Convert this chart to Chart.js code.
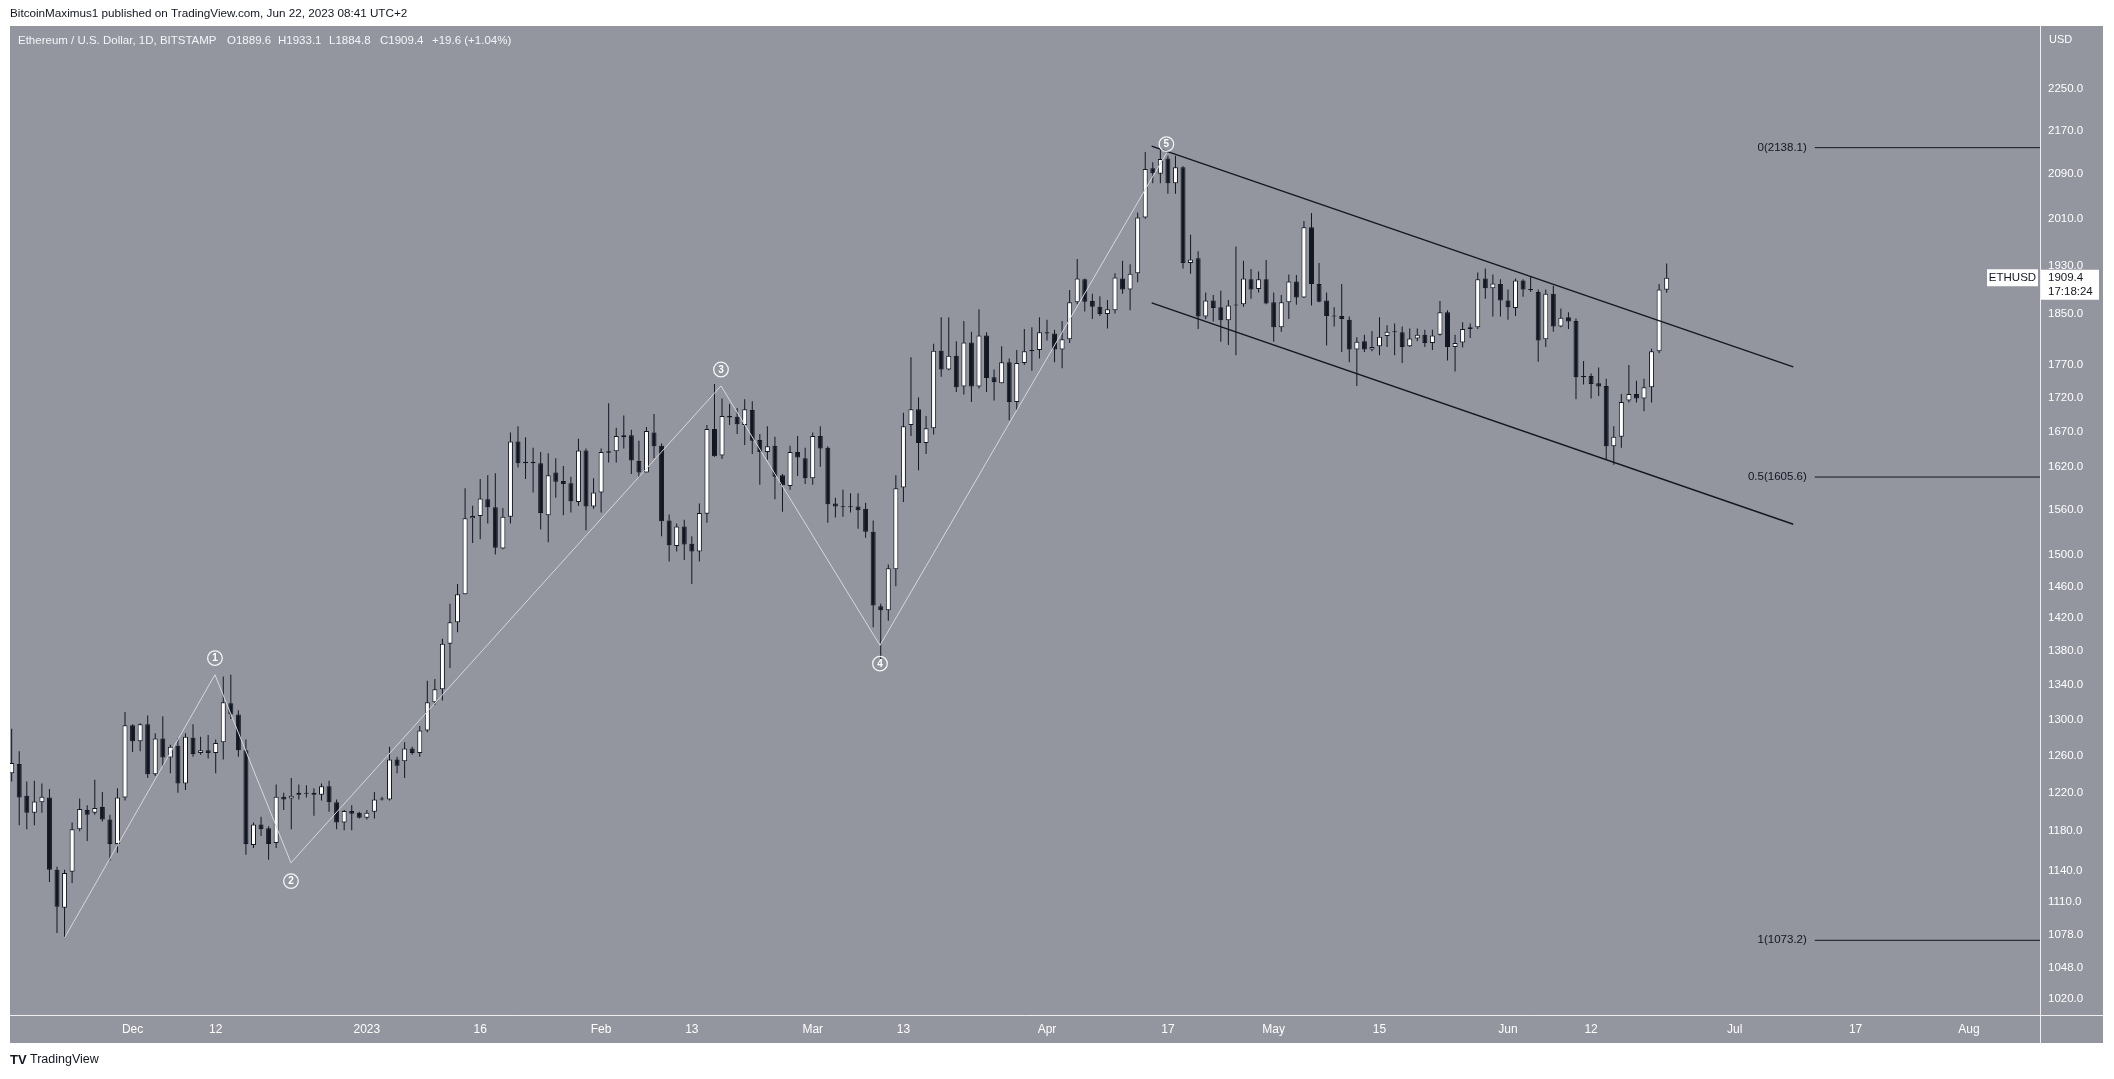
<!DOCTYPE html>
<html>
<head>
<meta charset="utf-8">
<title>ETHUSD 1D</title>
<script src="https://cdn.jsdelivr.net/npm/chart.js@4.4.0/dist/chart.umd.min.js"></script>
<style>
  html, body { margin: 0; padding: 0; background: #ffffff; }
  canvas { display: block; }
</style>
</head>
<body>
<canvas id="chart" width="2114" height="1079"></canvas>
<script>
// daily candles, first one is 2022-11-15 (one per day)
const startDate = '2022-11-15';

const openPrices = [
  1241, 1251, 1217, 1199, 1210, 1215, 1141, 1104, 1139, 1182, 1202, 1199, 1205, 1192, 1167, 1215,
  1294, 1276, 1295, 1240, 1279, 1258, 1271, 1230, 1280, 1263, 1266, 1263, 1275, 1319, 1306, 1266,
  1166, 1187, 1183, 1168, 1216, 1214, 1218, 1219, 1220, 1218, 1227, 1210, 1189, 1201, 1199,
  1194, 1200, 1213, 1213, 1256, 1254, 1268, 1263, 1288, 1320, 1335, 1389, 1415, 1450, 1549, 1552,
  1575, 1564, 1509, 1551, 1656, 1627, 1625, 1625, 1553, 1612, 1600, 1597, 1571, 1643, 1565,
  1584, 1642, 1642, 1662, 1665, 1628, 1612, 1669, 1650, 1546, 1512, 1538, 1515, 1505, 1555, 1674,
  1636, 1693, 1692, 1680, 1702, 1658, 1641, 1650, 1608, 1593, 1641, 1632,
  1604, 1664, 1647, 1569, 1565, 1565, 1565, 1562, 1531, 1435, 1430, 1482, 1591, 1680, 1703, 1654,
  1675, 1792, 1763, 1784, 1737, 1805, 1737, 1816, 1751, 1742, 1774, 1714, 1773, 1793, 1793,
  1821, 1819, 1794, 1810, 1869, 1907, 1871, 1862, 1850, 1856, 1908, 1890, 1917, 2012, 2100, 2090,
  2118, 2073, 2102, 1934, 1942, 1846, 1872, 1861, 1840, 1864, 1866, 1907, 1891, 1907,
  1869, 1829, 1869, 1903, 1877, 1995, 1899, 1872, 1846, 1847, 1841, 1794, 1807, 1794, 1799, 1815,
  1822, 1821, 1799, 1811, 1817, 1804, 1817, 1853, 1798, 1805, 1829, 1829, 1908, 1892, 1899,
  1872, 1860, 1905, 1890, 1886, 1810, 1883, 1830, 1845, 1839, 1753, 1753, 1742, 1738, 1649, 1663,
  1716, 1726, 1719, 1736, 1791, 1889.6
];
const highPrices = [
  1290, 1265, 1232, 1233, 1230, 1224, 1144, 1141, 1189, 1214, 1207, 1234, 1221, 1197, 1225, 1309,
  1295, 1296, 1305, 1285, 1304, 1272, 1279, 1285, 1295, 1281, 1283, 1278, 1350, 1352, 1311, 1278,
  1189, 1195, 1185, 1229, 1220, 1236, 1229, 1228, 1225, 1230, 1233, 1213, 1202, 1207, 1200,
  1202, 1221, 1216, 1270, 1259, 1275, 1270, 1293, 1345, 1347, 1395, 1438, 1463, 1590, 1566, 1603,
  1608, 1611, 1563, 1669, 1678, 1662, 1647, 1641, 1639, 1632, 1621, 1606, 1660, 1646, 1604,
  1646, 1712, 1676, 1694, 1673, 1657, 1677, 1696, 1653, 1554, 1542, 1547, 1525, 1569, 1680, 1741,
  1719, 1711, 1705, 1718, 1715, 1667, 1678, 1663, 1610, 1650, 1664, 1647,
  1669, 1678, 1649, 1577, 1588, 1583, 1583, 1570, 1546, 1438, 1488, 1608, 1698, 1782, 1721, 1693,
  1803, 1845, 1845, 1807, 1839, 1822, 1858, 1821, 1763, 1799, 1780, 1793, 1826, 1829, 1845,
  1841, 1825, 1839, 1889, 1941, 1908, 1883, 1879, 1873, 1917, 1938, 1932, 2021, 2130, 2111, 2137,
  2123, 2123, 2104, 1982, 1954, 1885, 1881, 1888, 1873, 1962, 1938, 1924, 1920, 1939,
  1885, 1881, 1915, 1914, 2006, 2020, 1934, 1885, 1861, 1899, 1846, 1813, 1817, 1823, 1845, 1832,
  1835, 1830, 1827, 1827, 1825, 1825, 1871, 1856, 1817, 1837, 1835, 1918, 1925, 1915, 1907,
  1890, 1908, 1907, 1912, 1890, 1890, 1896, 1859, 1853, 1843, 1776, 1757, 1766, 1749, 1678, 1726,
  1770, 1746, 1749, 1795, 1899, 1933.1
];
const lowPrices = [
  1232, 1186, 1182, 1186, 1199, 1129, 1080, 1075, 1128, 1180, 1170, 1197, 1190, 1150, 1158, 1212,
  1264, 1265, 1236, 1238, 1248, 1241, 1220, 1223, 1259, 1261, 1257, 1241, 1256, 1301, 1259, 1156,
  1163, 1175, 1151, 1163, 1202, 1182, 1213, 1215, 1196, 1212, 1200, 1182, 1181, 1181, 1193,
  1192, 1193, 1212, 1212, 1241, 1236, 1261, 1259, 1286, 1317, 1322, 1360, 1403, 1450, 1516, 1521,
  1542, 1501, 1508, 1542, 1619, 1603, 1584, 1534, 1517, 1577, 1553, 1557, 1566, 1533, 1562,
  1557, 1626, 1626, 1646, 1610, 1605, 1612, 1632, 1525, 1492, 1505, 1494, 1463, 1492, 1543, 1634,
  1631, 1680, 1667, 1651, 1638, 1595, 1630, 1575, 1558, 1588, 1607, 1596,
  1595, 1620, 1543, 1550, 1551, 1557, 1535, 1523, 1409, 1370, 1417, 1460, 1571, 1664, 1615, 1638,
  1666, 1752, 1762, 1729, 1725, 1714, 1734, 1729, 1716, 1742, 1687, 1702, 1770, 1761, 1780,
  1808, 1774, 1765, 1804, 1866, 1854, 1842, 1847, 1827, 1851, 1883, 1856, 1902, 2010, 2073, 2073,
  2054, 2054, 1925, 1916, 1826, 1842, 1838, 1806, 1801, 1785, 1862, 1875, 1885, 1866,
  1806, 1822, 1842, 1865, 1876, 1864, 1869, 1800, 1830, 1790, 1774, 1738, 1790, 1791, 1785, 1798,
  1785, 1773, 1798, 1807, 1798, 1793, 1816, 1777, 1760, 1797, 1812, 1826, 1875, 1846, 1846,
  1841, 1847, 1878, 1886, 1775, 1798, 1822, 1829, 1826, 1718, 1740, 1719, 1723, 1631, 1623, 1647,
  1713, 1713, 1700, 1713, 1788, 1884.8
];
const closePrices = [
  1252, 1215, 1199, 1211, 1216, 1141, 1105, 1138, 1182, 1203, 1197, 1204, 1192, 1167, 1215, 1294,
  1276, 1295, 1240, 1279, 1258, 1270, 1230, 1281, 1262, 1266, 1263, 1274, 1320, 1306, 1266, 1167,
  1187, 1182, 1167, 1216, 1213, 1217, 1220, 1220, 1218, 1227, 1210, 1189, 1201, 1198, 1194,
  1199, 1213, 1214, 1256, 1249, 1268, 1263, 1288, 1320, 1335, 1389, 1415, 1450, 1549, 1552, 1576,
  1564, 1510, 1551, 1656, 1625, 1625, 1627, 1556, 1608, 1599, 1596, 1572, 1643, 1565, 1584,
  1641, 1640, 1664, 1665, 1629, 1612, 1671, 1649, 1545, 1513, 1538, 1514, 1505, 1556, 1674, 1635,
  1693, 1691, 1681, 1703, 1657, 1641, 1649, 1606, 1594, 1641, 1633, 1604,
  1664, 1646, 1568, 1565, 1564, 1564, 1560, 1531, 1436, 1430, 1483, 1590, 1678, 1703, 1654, 1675,
  1792, 1763, 1784, 1736, 1805, 1737, 1816, 1750, 1744, 1774, 1714, 1773, 1791, 1791, 1821,
  1819, 1794, 1810, 1869, 1908, 1870, 1862, 1850, 1858, 1910, 1890, 1916, 2012, 2099, 2091, 2117,
  2073, 2102, 1934, 1940, 1846, 1872, 1860, 1840, 1864, 1865, 1908, 1890, 1907, 1867,
  1829, 1869, 1903, 1877, 1995, 1899, 1870, 1847, 1846, 1842, 1794, 1806, 1794, 1798, 1814, 1822,
  1821, 1798, 1811, 1817, 1804, 1816, 1853, 1798, 1804, 1826, 1826, 1907, 1892, 1900, 1872,
  1861, 1905, 1890, 1889, 1808, 1883, 1830, 1844, 1838, 1751, 1751, 1741, 1737, 1649, 1663, 1714,
  1726, 1719, 1736, 1791, 1889.8, 1909.4
];

const yTickValues = [2250, 2170, 2090, 2010, 1930, 1850, 1770, 1720, 1670, 1620, 1560, 1500, 1460,
  1420, 1380, 1340, 1300, 1260, 1220, 1180, 1140, 1110, 1078, 1048, 1020];
const xTickDates = ['2022-12-01', '2022-12-12', '2023-01-01', '2023-01-16', '2023-02-01', '2023-02-13',
  '2023-03-01', '2023-03-13', '2023-04-01', '2023-04-17', '2023-05-01', '2023-05-15', '2023-06-01',
  '2023-06-12', '2023-07-01', '2023-07-17', '2023-08-01'];
const xTickLabels = ['Dec', '12', '2023', '16', 'Feb', '13', 'Mar', '13', 'Apr', '17', 'May', '15',
  'Jun', '12', 'Jul', '17', 'Aug'];

// drawings (in day index / price)
const waveDays = [6.96, 26.9, 36.96, 93.86, 114.9, 152.8];
const wavePrices = [1075, 1352, 1148, 1738, 1387, 2128];
const waveLabels = ['', '1', '2', '3', '4', '5'];
const channelDays = [150.85, 235.75];
const channelUpper = [2141, 1767];
const channelLower = [1868, 1541];
const fibLevels = ['0', '0.5', '1'];
const fibPrices = [2138.1, 1605.6, 1073.2];
const fibStartDay = 238.6;

const lastPrice = 1909.4;
const countdown = '17:18:24';

// visible window
const xMin = -0.22, xMax = 268.4;
const yMin = 1005.7, yMax = 2376.7;

const PANEL = '#93969f';
const DARK = '#131722';
const SEP = 'rgba(255,255,255,0.85)';
const FONT = '"Liberation Sans", Arial, sans-serif';

function dayIndex(d) {
  return Math.round((Date.parse(d) - Date.parse(startDate)) / 864e5);
}

const days = openPrices.map((_, i) => i);
const bodies = days.map(i => ({ x: i, y: [openPrices[i], closePrices[i]] }));
const wicks = days.map(i => ({ x: i, y: [lowPrices[i], highPrices[i]] }));
const bodyColors = days.map(i => closePrices[i] >= openPrices[i] ? '#ffffff' : DARK);

const toPts = (xs, ys) => xs.map((x, i) => ({ x: x, y: ys[i] }));
const lineDs = (data, color, width, order) => ({
  type: 'line', data: data, borderColor: color, borderWidth: width, pointRadius: 0,
  tension: 0, fill: false, order: order
});

// label offsets for the wave circles, px from the wave point
const waveLabelDy = [0, -16.6, 18.3, -16.4, 18.3, -9];

const backdrop = {
  id: 'backdrop',
  beforeDraw(chart) {
    const ctx = chart.ctx, a = chart.chartArea;
    const yS = chart.scales.y, xS = chart.scales.x;
    ctx.save();
    ctx.fillStyle = '#ffffff';
    ctx.fillRect(0, 0, chart.width, chart.height);
    ctx.fillStyle = PANEL;
    ctx.fillRect(a.left, a.top, yS.right - a.left, xS.bottom - a.top);
    ctx.restore();
  }
};

const overlay = {
  id: 'overlay',
  afterDraw(chart) {
    const ctx = chart.ctx, a = chart.chartArea;
    const xS = chart.scales.x, yS = chart.scales.y;
    ctx.save();

    // separators through the corner
    ctx.strokeStyle = SEP;
    ctx.lineWidth = 1;
    ctx.beginPath();
    ctx.moveTo(a.right, a.bottom + 0.5); ctx.lineTo(yS.right, a.bottom + 0.5);
    ctx.moveTo(a.right + 0.5, a.bottom); ctx.lineTo(a.right + 0.5, xS.bottom);
    ctx.stroke();

    // header
    ctx.textBaseline = 'middle';
    ctx.textAlign = 'left';
    ctx.fillStyle = '#131722';
    ctx.font = '11.7px ' + FONT;
    ctx.fillText('BitcoinMaximus1 published on TradingView.com, Jun 22, 2023 08:41 UTC+2', 10, 14);

    ctx.fillStyle = '#f4f5f8';
    ctx.font = '11.5px ' + FONT;
    ctx.fillText('Ethereum / U.S. Dollar, 1D, BITSTAMP', 18, 41);
    const n = openPrices.length - 1;
    const chg = closePrices[n] - closePrices[n - 1];
    const ohlc = [
      ['O' + openPrices[n].toFixed(1), 227],
      ['H' + highPrices[n].toFixed(1), 278],
      ['L' + lowPrices[n].toFixed(1), 329],
      ['C' + closePrices[n].toFixed(1), 380],
      ['+' + chg.toFixed(1) + ' (+' + (chg / closePrices[n - 1] * 100).toFixed(2) + '%)', 432]
    ];
    ohlc.forEach(t => ctx.fillText(t[0], t[1], 41));

    // USD
    ctx.fillStyle = '#ffffff';
    ctx.font = '11px ' + FONT;
    ctx.fillText('USD', 2049, 40);

    // wave circles
    for (let i = 1; i < waveDays.length; i++) {
      const px = xS.getPixelForValue(waveDays[i]);
      const py = yS.getPixelForValue(wavePrices[i]) + waveLabelDy[i];
      ctx.beginPath();
      ctx.arc(px, py, 7.3, 0, Math.PI * 2);
      ctx.strokeStyle = 'rgba(255,255,255,0.9)';
      ctx.lineWidth = 1.3;
      ctx.stroke();
      ctx.fillStyle = '#ffffff';
      ctx.font = 'bold 10px ' + FONT;
      ctx.textAlign = 'center';
      ctx.fillText(waveLabels[i], px, py + 0.5);
    }

    // fib labels
    ctx.fillStyle = DARK;
    ctx.font = '11.5px ' + FONT;
    ctx.textAlign = 'right';
    const fx = xS.getPixelForValue(fibStartDay) - 8;
    fibPrices.forEach((p, i) => {
      ctx.fillText(fibLevels[i] + '(' + p.toFixed(1) + ')', fx, yS.getPixelForValue(p));
    });

    // last price tags
    const ly = yS.getPixelForValue(lastPrice);
    ctx.fillStyle = '#ffffff';
    ctx.fillRect(a.right - 53, ly - 8.5, 51, 17);
    ctx.fillRect(a.right + 1, ly - 8, 58, 30);
    ctx.fillStyle = DARK;
    ctx.textAlign = 'center';
    ctx.font = '11.5px ' + FONT;
    ctx.fillText('ETHUSD', a.right - 27.5, ly + 0.5);
    ctx.textAlign = 'left';
    ctx.fillText(lastPrice.toFixed(1), a.right + 8, ly + 0.5);
    ctx.fillText(countdown, a.right + 8, ly + 14.5);

    // footer
    ctx.fillStyle = '#131722';
    ctx.font = 'bold 13px ' + FONT;
    ctx.fillText('TV', 10, 1060);
    ctx.font = '12.5px ' + FONT;
    ctx.fillText('TradingView', 30, 1060);

    ctx.restore();
  }
};

Chart.defaults.font.family = FONT;

new Chart(document.getElementById('chart'), {
  type: 'bar',
  data: {
    datasets: [
      lineDs(toPts(channelDays, channelUpper), DARK, 1.4, 0),
      lineDs(toPts(channelDays, channelLower), DARK, 1.4, 0),
      ...fibPrices.map(p => lineDs(toPts([fibStartDay, xMax], [p, p]), DARK, 1, 0)),
      lineDs(toPts(waveDays, wavePrices), '#d6d8dc', 1, 1),
      {
        type: 'bar', data: bodies, backgroundColor: bodyColors, borderColor: DARK,
        borderWidth: 1, borderSkipped: false, barThickness: 5, minBarLength: 1,
        grouped: false, inflateAmount: 0, order: 2
      },
      {
        type: 'bar', data: wicks, backgroundColor: DARK, borderWidth: 0,
        barThickness: 1, grouped: false, inflateAmount: 0, order: 3
      }
    ]
  },
  options: {
    responsive: false,
    animation: false,
    devicePixelRatio: 1,
    layout: { padding: { left: 10, top: 26, right: 11, bottom: 36 } },
    plugins: { legend: { display: false }, tooltip: { enabled: false } },
    scales: {
      x: {
        type: 'linear', min: xMin, max: xMax, offset: false, bounds: 'data',
        grid: { display: false, drawTicks: false, offset: false },
        border: { display: true, color: SEP },
        afterBuildTicks: s => { s.ticks = xTickDates.map(d => ({ value: dayIndex(d) })); },
        afterFit: s => { s.height = 28; },
        ticks: {
          color: '#ffffff', font: { size: 12 }, padding: 7, maxRotation: 0, autoSkip: false,
          callback: (v, i) => xTickLabels[i]
        }
      },
      y: {
        type: 'logarithmic', position: 'right', min: yMin, max: yMax, bounds: 'data',
        grid: { display: false, drawTicks: false },
        border: { display: true, color: SEP },
        afterBuildTicks: s => { s.ticks = yTickValues.map(v => ({ value: v })); },
        afterFit: s => { s.width = 63; },
        ticks: {
          color: '#ffffff', font: { size: 11.5 }, padding: 8, autoSkip: false,
          callback: v => Number(v).toFixed(1)
        }
      }
    }
  },
  plugins: [backdrop, overlay]
});
</script>
</body>
</html>
